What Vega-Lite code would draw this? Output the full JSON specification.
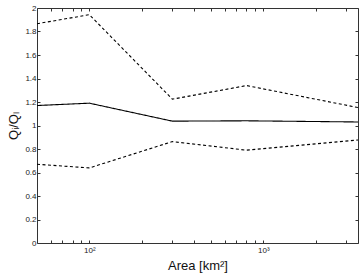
{
  "$schema": "https://vega.github.io/schema/vega-lite/v6.json",
  "width": 321,
  "height": 235,
  "autosize": "none",
  "padding": {"left": 37, "top": 8, "right": 3, "bottom": 30},
  "background": "white",
  "config": {
    "view": {"stroke": null},
    "font": "Liberation Sans",
    "axis": {
      "grid": false,
      "domainColor": "#333333",
      "domainWidth": 1,
      "tickColor": "#333333",
      "tickSize": -3,
      "labelFont": "Liberation Sans",
      "labelFontSize": 8,
      "labelColor": "#222222",
      "titleFont": "Liberation Sans",
      "titleFontWeight": "normal",
      "titleColor": "#111111"
    }
  },
  "data": {
    "values": [
      {"area": 50, "ratio": 1.866, "series": "upper"},
      {"area": 100, "ratio": 1.943, "series": "upper"},
      {"area": 300, "ratio": 1.224, "series": "upper"},
      {"area": 800, "ratio": 1.34, "series": "upper"},
      {"area": 3500, "ratio": 1.153, "series": "upper"},
      {"area": 50, "ratio": 1.17, "series": "mean"},
      {"area": 100, "ratio": 1.19, "series": "mean"},
      {"area": 300, "ratio": 1.037, "series": "mean"},
      {"area": 800, "ratio": 1.04, "series": "mean"},
      {"area": 3500, "ratio": 1.03, "series": "mean"},
      {"area": 50, "ratio": 0.67, "series": "lower"},
      {"area": 100, "ratio": 0.639, "series": "lower"},
      {"area": 300, "ratio": 0.863, "series": "lower"},
      {"area": 800, "ratio": 0.79, "series": "lower"},
      {"area": 3500, "ratio": 0.877, "series": "lower"}
    ]
  },
  "layer": [
    {
      "mark": {"type": "line", "color": "black", "strokeWidth": 1.1, "clip": true},
      "encoding": {
        "x": {
          "field": "area",
          "type": "quantitative",
          "scale": {"type": "log", "domain": [50, 3500], "nice": false},
          "axis": {
            "title": "Area [km²]",
            "titleFontSize": 13,
            "titlePadding": 5,
            "values": [60, 70, 80, 90, 100, 200, 300, 400, 500, 600, 700, 800, 900, 1000, 2000, 3000],
            "labelExpr": "datum.value == 100 ? '10²' : datum.value == 1000 ? '10³' : ''",
            "labelPadding": 6
          }
        },
        "y": {
          "field": "ratio",
          "type": "quantitative",
          "scale": {"domain": [0, 2], "nice": false},
          "axis": {
            "title": "Qᵢ/Qₗ",
            "titleFontSize": 13,
            "titlePadding": 4,
            "values": [0, 0.2, 0.4, 0.6, 0.8, 1, 1.2, 1.4, 1.6, 1.8, 2],
            "labelExpr": "datum.value == 1 ? '1' : datum.value == 0 ? '0' : datum.value == 2 ? '2' : format(datum.value, '.1f')",
            "labelPadding": 4
          }
        },
        "detail": {"field": "series"},
        "strokeDash": {
          "field": "series",
          "type": "nominal",
          "scale": {"domain": ["mean", "upper", "lower"], "range": [[1, 0], [3, 2.5], [3, 2.5]]},
          "legend": null
        }
      }
    },
    {
      "mark": {"type": "rule", "opacity": 0},
      "encoding": {
        "x": {
          "field": "area",
          "type": "quantitative",
          "axis": {
            "orient": "top",
            "title": null,
            "labels": false,
            "values": [60, 70, 80, 90, 100, 200, 300, 400, 500, 600, 700, 800, 900, 1000, 2000, 3000]
          }
        },
        "y": {
          "field": "ratio",
          "type": "quantitative",
          "axis": {
            "orient": "right",
            "title": null,
            "labels": false,
            "values": [0, 0.2, 0.4, 0.6, 0.8, 1, 1.2, 1.4, 1.6, 1.8, 2]
          }
        }
      }
    }
  ],
  "resolve": {"axis": {"x": "independent", "y": "independent"}}
}
